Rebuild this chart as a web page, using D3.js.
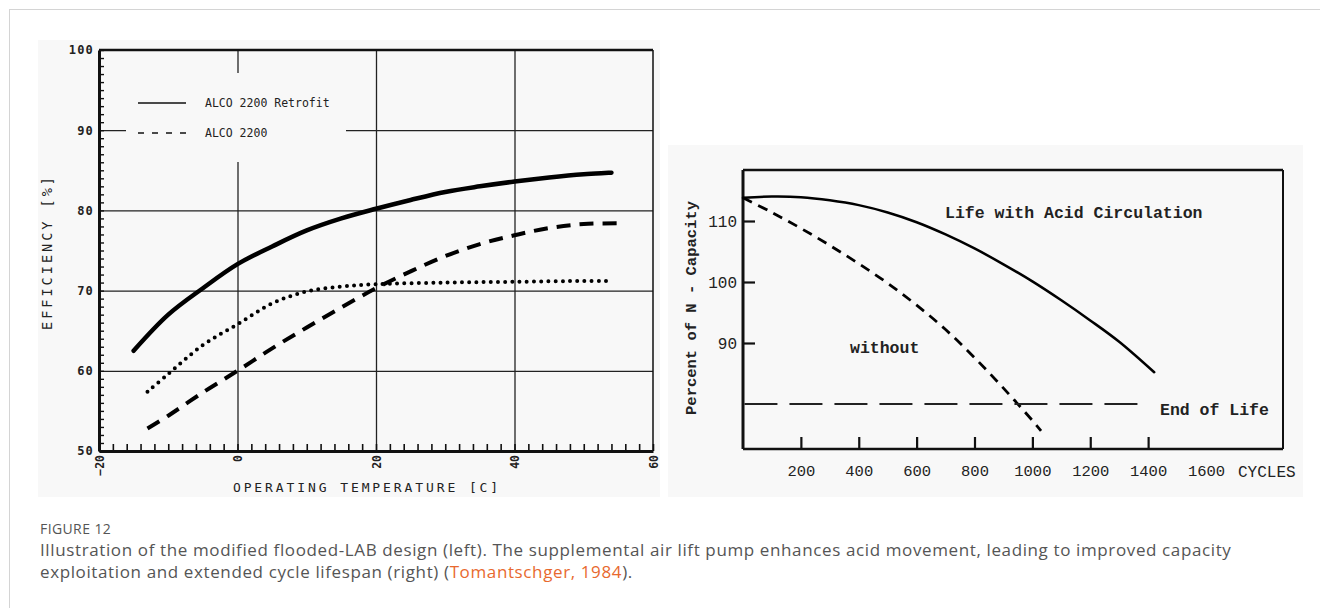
<!DOCTYPE html>
<html lang="en">

<head>
    <meta charset="UTF-8">
    <meta name="viewport" content="width=device-width, initial-scale=1.0">
    <title>Figure 12</title>
    <script src="https://d3js.org/d3.v7.min.js"></script>
    <style>
        body {
            margin: 0;
            background: #ffffff;
        }

        .card {
            position: absolute;
            left: 9px;
            top: 9px;
            width: 1320px;
            height: 620px;
            border-left: 1px solid #d4d4d4;
            border-top: 1px solid #d4d4d4;
        }

        .caption-head {
            position: absolute;
            left: 40px;
            top: 519px;
            font-family: "Open Sans", sans-serif;
            font-size: 14px;
            letter-spacing: 0.4px;
            color: #555;
        }

        .caption {
            position: absolute;
            left: 40px;
            top: 539px;
            width: 1270px;
            font-family: "Open Sans", sans-serif;
            font-size: 17px;
            letter-spacing: 0.62px;
            line-height: 22px;
            color: #555;
            white-space: nowrap;
        }

        .caption a {
            color: #e8692e;
            text-decoration: none;
        }

        svg {
            position: absolute;
            left: 0;
            top: 0;
        }
    </style>
</head>

<body>
    <div class="card"></div>
    <svg id="chart" width="1320" height="608"></svg>
    <div class="caption-head">FIGURE 12</div>
    <div class="caption">Illustration of the modified flooded-LAB design (left). The supplemental air lift pump enhances acid movement, leading to improved capacity<br>exploitation and extended cycle lifespan (right) (<a href="#">Tomantschger, 1984</a>).</div>

    <script>
        // left panel: efficiency vs operating temperature
        const retrofitTemp = [-15, -10, -5, 0, 5, 10, 15, 20, 25, 30, 35, 40, 45, 50, 54];
        const retrofitEff = [62.5, 67, 70.3, 73.3, 75.5, 77.5, 79, 80.2, 81.3, 82.3, 83, 83.6, 84.1, 84.5, 84.7];

        const alcoTemp = [-13, -10, -5, 0, 5, 10, 15, 20, 25, 30, 35, 40, 45, 50, 55];
        const alcoEff = [52.8, 54.4, 57.3, 60.0, 62.8, 65.4, 67.9, 70.3, 72.4, 74.3, 75.8, 76.9, 77.8, 78.3, 78.4];

        const dottedTemp = [-13, -10, -5, 0, 5, 10, 15, 20, 30, 40, 50, 54];
        const dottedEff = [57.4, 59.6, 63.2, 65.8, 68.4, 69.9, 70.5, 70.8, 71, 71.1, 71.2, 71.2];

        const tempTicks = [-20, 0, 20, 40, 60];
        const effTicks = [50, 60, 70, 80, 90, 100];

        // right panel: capacity vs cycles
        const acidCycles = [0, 100, 200, 300, 400, 500, 600, 700, 800, 900, 1000, 1100, 1200, 1300, 1421];
        const acidCapacity = [113.8, 114.0, 113.9, 113.4, 112.6, 111.4, 109.8, 107.8, 105.5, 102.9, 100.1, 97.0, 93.7, 90.2, 85.2];

        const plainCycles = [0, 100, 200, 300, 400, 500, 600, 700, 800, 900, 1000, 1030];
        const plainCapacity = [113.8, 111.4, 108.8, 106.0, 103.0, 99.8, 96.2, 92.2, 87.6, 82.6, 77.3, 75.6];

        const endOfLife = 80;
        const endOfLifeCycles = [5, 1400];
        const cycleTicks = [200, 400, 600, 800, 1000, 1200, 1400, 1600];
        const capacityTicks = [90, 100, 110];

        const svg = d3.select("#chart");

        // ---------------- Left chart ----------------
        svg.append("rect")
           .attr("x", 38).attr("y", 40)
           .attr("width", 622).attr("height", 457)
           .attr("fill", "#f8f8f8");

        const x1 = d3.scaleLinear().domain([-20, 60]).range([99, 653]);
        const y1 = d3.scaleLinear().domain([50, 100]).range([451, 50]);

        const left = svg.append("g").attr("font-family", "DejaVu Sans Mono, monospace");

        // grid lines
        left.append("g")
            .attr("transform", `translate(0,${y1(50)})`)
            .call(d3.axisBottom(x1).tickValues([0, 20, 40]).tickSize(-(y1(50) - y1(100))).tickFormat(""))
            .call(g => g.select(".domain").remove())
            .selectAll("line").attr("stroke", "#222").attr("stroke-width", 1.3);

        left.append("g")
            .attr("transform", `translate(${x1(-20)},0)`)
            .call(d3.axisLeft(y1).tickValues([60, 70, 80, 90]).tickSize(-(x1(60) - x1(-20))).tickFormat(""))
            .call(g => g.select(".domain").remove())
            .selectAll("line").attr("stroke", "#222").attr("stroke-width", 1.3);

        // legend box hides grid behind it
        left.append("rect")
            .attr("x", 126).attr("y", 73)
            .attr("width", 220).attr("height", 89)
            .attr("fill", "#f8f8f8");

        // frame: top and right
        left.append("line")
            .attr("x1", x1(-20)).attr("x2", x1(60))
            .attr("y1", y1(100)).attr("y2", y1(100))
            .attr("stroke", "#111").attr("stroke-width", 2.5);
        left.append("line")
            .attr("x1", x1(60)).attr("x2", x1(60))
            .attr("y1", y1(100)).attr("y2", y1(50))
            .attr("stroke", "#111").attr("stroke-width", 1.5);

        // minor ticks
        left.append("g")
            .attr("transform", `translate(${x1(-20)},0)`)
            .call(d3.axisRight(y1).tickValues(d3.range(50, 101, 1)).tickSize(5).tickFormat(""))
            .call(g => g.select(".domain").remove())
            .selectAll("line").attr("stroke", "#111").attr("stroke-width", 1.4);

        left.append("g")
            .attr("transform", `translate(0,${y1(50)})`)
            .call(d3.axisTop(x1).tickValues(d3.range(-20, 61, 2)).tickSize(7).tickFormat(""))
            .call(g => g.select(".domain").remove())
            .selectAll("line").attr("stroke", "#111").attr("stroke-width", 1.6);

        // y axis
        const yAxis1 = left.append("g")
            .attr("transform", `translate(${x1(-20)},0)`)
            .call(d3.axisLeft(y1).tickValues(effTicks).tickSize(0).tickPadding(5));
        yAxis1.select(".domain").attr("stroke", "#111").attr("stroke-width", 3);
        yAxis1.selectAll("text")
              .attr("font-size", 12).attr("font-weight", "bold")
              .attr("letter-spacing", 1.2)
              .attr("font-family", "DejaVu Sans Mono, monospace")
              .attr("fill", "#222");

        // x axis with rotated labels
        const xAxis1 = left.append("g")
            .attr("transform", `translate(0,${y1(50)})`)
            .call(d3.axisBottom(x1).tickValues(tempTicks).tickSize(0).tickPadding(0));
        xAxis1.select(".domain").attr("stroke", "#111").attr("stroke-width", 3);
        xAxis1.selectAll("text")
              .attr("transform", "rotate(-90)")
              .attr("x", -4).attr("y", 0).attr("dy", "0.35em")
              .style("text-anchor", "end")
              .attr("font-size", 11.5).attr("font-weight", "bold")
              .attr("font-family", "DejaVu Sans Mono, monospace")
              .attr("fill", "#222");

        // axis titles
        left.append("text")
            .attr("transform", "translate(52,252) rotate(-90)")
            .attr("text-anchor", "middle")
            .attr("font-size", 13.5).attr("letter-spacing", 3)
            .attr("fill", "#222")
            .text("EFFICIENCY [%]");

        left.append("text")
            .attr("x", 367).attr("y", 492)
            .attr("text-anchor", "middle")
            .attr("font-size", 13).attr("letter-spacing", 2.9)
            .attr("fill", "#222")
            .text("OPERATING TEMPERATURE [C]");

        // curves
        const line1 = d3.line().x(d => x1(d[0])).y(d => y1(d[1])).curve(d3.curveCatmullRom.alpha(0.5));

        left.append("path")
            .datum(d3.zip(retrofitTemp, retrofitEff))
            .attr("d", line1)
            .attr("fill", "none").attr("stroke", "#000")
            .attr("stroke-width", 4.5).attr("stroke-linecap", "round");

        left.append("path")
            .datum(d3.zip(alcoTemp, alcoEff))
            .attr("d", line1)
            .attr("fill", "none").attr("stroke", "#000")
            .attr("stroke-width", 4).attr("stroke-dasharray", "14 9");

        left.append("path")
            .datum(d3.zip(dottedTemp, dottedEff))
            .attr("d", line1)
            .attr("fill", "none").attr("stroke", "#000")
            .attr("stroke-width", 4).attr("stroke-linecap", "round")
            .attr("stroke-dasharray", "0 7.2");

        // legend
        const legend = left.append("g").attr("font-size", 11.5).attr("fill", "#222");
        legend.append("line")
              .attr("x1", 138).attr("x2", 186).attr("y1", 103).attr("y2", 103)
              .attr("stroke", "#111").attr("stroke-width", 1.6);
        legend.append("text").attr("x", 205).attr("y", 107).text("ALCO 2200 Retrofit");
        legend.append("line")
              .attr("x1", 138).attr("x2", 186).attr("y1", 133).attr("y2", 133)
              .attr("stroke", "#111").attr("stroke-width", 1.6)
              .attr("stroke-dasharray", "6 8");
        legend.append("text").attr("x", 205).attr("y", 137).text("ALCO 2200");

        // ---------------- Right chart ----------------
        svg.append("rect")
           .attr("x", 668).attr("y", 145)
           .attr("width", 635).attr("height", 352)
           .attr("fill", "#f8f8f8");

        const x2 = d3.scaleLinear().domain([0, 1600]).range([743, 1206]);
        const y2 = d3.scaleLinear().domain([80, 110]).range([404, 221]);
        const x2max = x2.invert(1283);
        const y2min = y2.invert(449);
        const y2max = y2.invert(170);

        const right = svg.append("g").attr("font-family", "Liberation Mono, monospace");

        // frame top and right
        right.append("line")
             .attr("x1", x2(0)).attr("x2", x2(x2max))
             .attr("y1", y2(y2max)).attr("y2", y2(y2max))
             .attr("stroke", "#111").attr("stroke-width", 2.5);
        right.append("line")
             .attr("x1", x2(x2max)).attr("x2", x2(x2max))
             .attr("y1", y2(y2max)).attr("y2", y2(y2min))
             .attr("stroke", "#111").attr("stroke-width", 2);

        // y axis
        const yAxis2 = right.append("g")
            .attr("transform", `translate(${x2(0)},0)`)
            .call(d3.axisRight(y2).tickValues(capacityTicks).tickSize(12).tickFormat(""));
        yAxis2.select(".domain").remove();
        yAxis2.selectAll("line").attr("stroke", "#111").attr("stroke-width", 2.2);
        right.append("line")
             .attr("x1", x2(0)).attr("x2", x2(0))
             .attr("y1", y2(y2max)).attr("y2", y2(y2min))
             .attr("stroke", "#111").attr("stroke-width", 3);
        right.append("g")
             .attr("transform", `translate(${x2(0)},0)`)
             .call(d3.axisLeft(y2).tickValues(capacityTicks).tickSize(0).tickPadding(6))
             .call(g => g.select(".domain").remove())
             .selectAll("text")
             .attr("font-size", 16).attr("font-family", "Liberation Mono, monospace")
             .attr("fill", "#222");

        // x axis
        const xAxis2 = right.append("g")
            .attr("transform", `translate(0,${y2(y2min)})`)
            .call(d3.axisTop(x2).tickValues(cycleTicks.slice(0, 7)).tickSize(12).tickFormat(""));
        xAxis2.select(".domain").remove();
        xAxis2.selectAll("line").attr("stroke", "#111").attr("stroke-width", 2.2);
        right.append("line")
             .attr("x1", x2(0)).attr("x2", x2(x2max))
             .attr("y1", y2(y2min)).attr("y2", y2(y2min))
             .attr("stroke", "#111").attr("stroke-width", 2.6);
        right.append("g")
             .attr("transform", `translate(0,${y2(y2min)})`)
             .call(d3.axisBottom(x2).tickValues(cycleTicks).tickSize(0).tickPadding(16).tickFormat(d3.format("d")))
             .call(g => g.select(".domain").remove())
             .selectAll("text")
             .attr("font-size", 15.5).attr("font-family", "Liberation Mono, monospace")
             .attr("fill", "#222");

        right.append("text")
             .attr("x", 1238).attr("y", 477)
             .attr("font-size", 16).attr("fill", "#222")
             .text("CYCLES");

        right.append("text")
             .attr("transform", "translate(696,308) rotate(-90)")
             .attr("text-anchor", "middle")
             .attr("font-size", 15.5).attr("font-weight", "bold")
             .attr("fill", "#222")
             .text("Percent of N - Capacity");

        // curves
        const line2 = d3.line().x(d => x2(d[0])).y(d => y2(d[1])).curve(d3.curveCatmullRom.alpha(0.5));

        right.append("path")
             .datum(d3.zip(acidCycles, acidCapacity))
             .attr("d", line2)
             .attr("fill", "none").attr("stroke", "#000")
             .attr("stroke-width", 2.5).attr("stroke-linecap", "round");

        right.append("path")
             .datum(d3.zip(plainCycles, plainCapacity))
             .attr("d", line2)
             .attr("fill", "none").attr("stroke", "#000")
             .attr("stroke-width", 2.8).attr("stroke-dasharray", "10 7");

        right.append("line")
             .attr("x1", x2(endOfLifeCycles[0])).attr("x2", x2(endOfLifeCycles[1]))
             .attr("y1", y2(endOfLife)).attr("y2", y2(endOfLife))
             .attr("stroke", "#222").attr("stroke-width", 1.8)
             .attr("stroke-dasharray", "33 12");

        // annotations
        const notes = right.append("g")
             .attr("font-size", 16.5).attr("font-weight", "bold").attr("fill", "#222");
        notes.append("text").attr("x", 945).attr("y", 218).text("Life with Acid Circulation");
        notes.append("text").attr("x", 850).attr("y", 353).text("without");
        notes.append("text").attr("x", 1160).attr("y", 415).text("End of Life");
    </script>
</body>

</html>
